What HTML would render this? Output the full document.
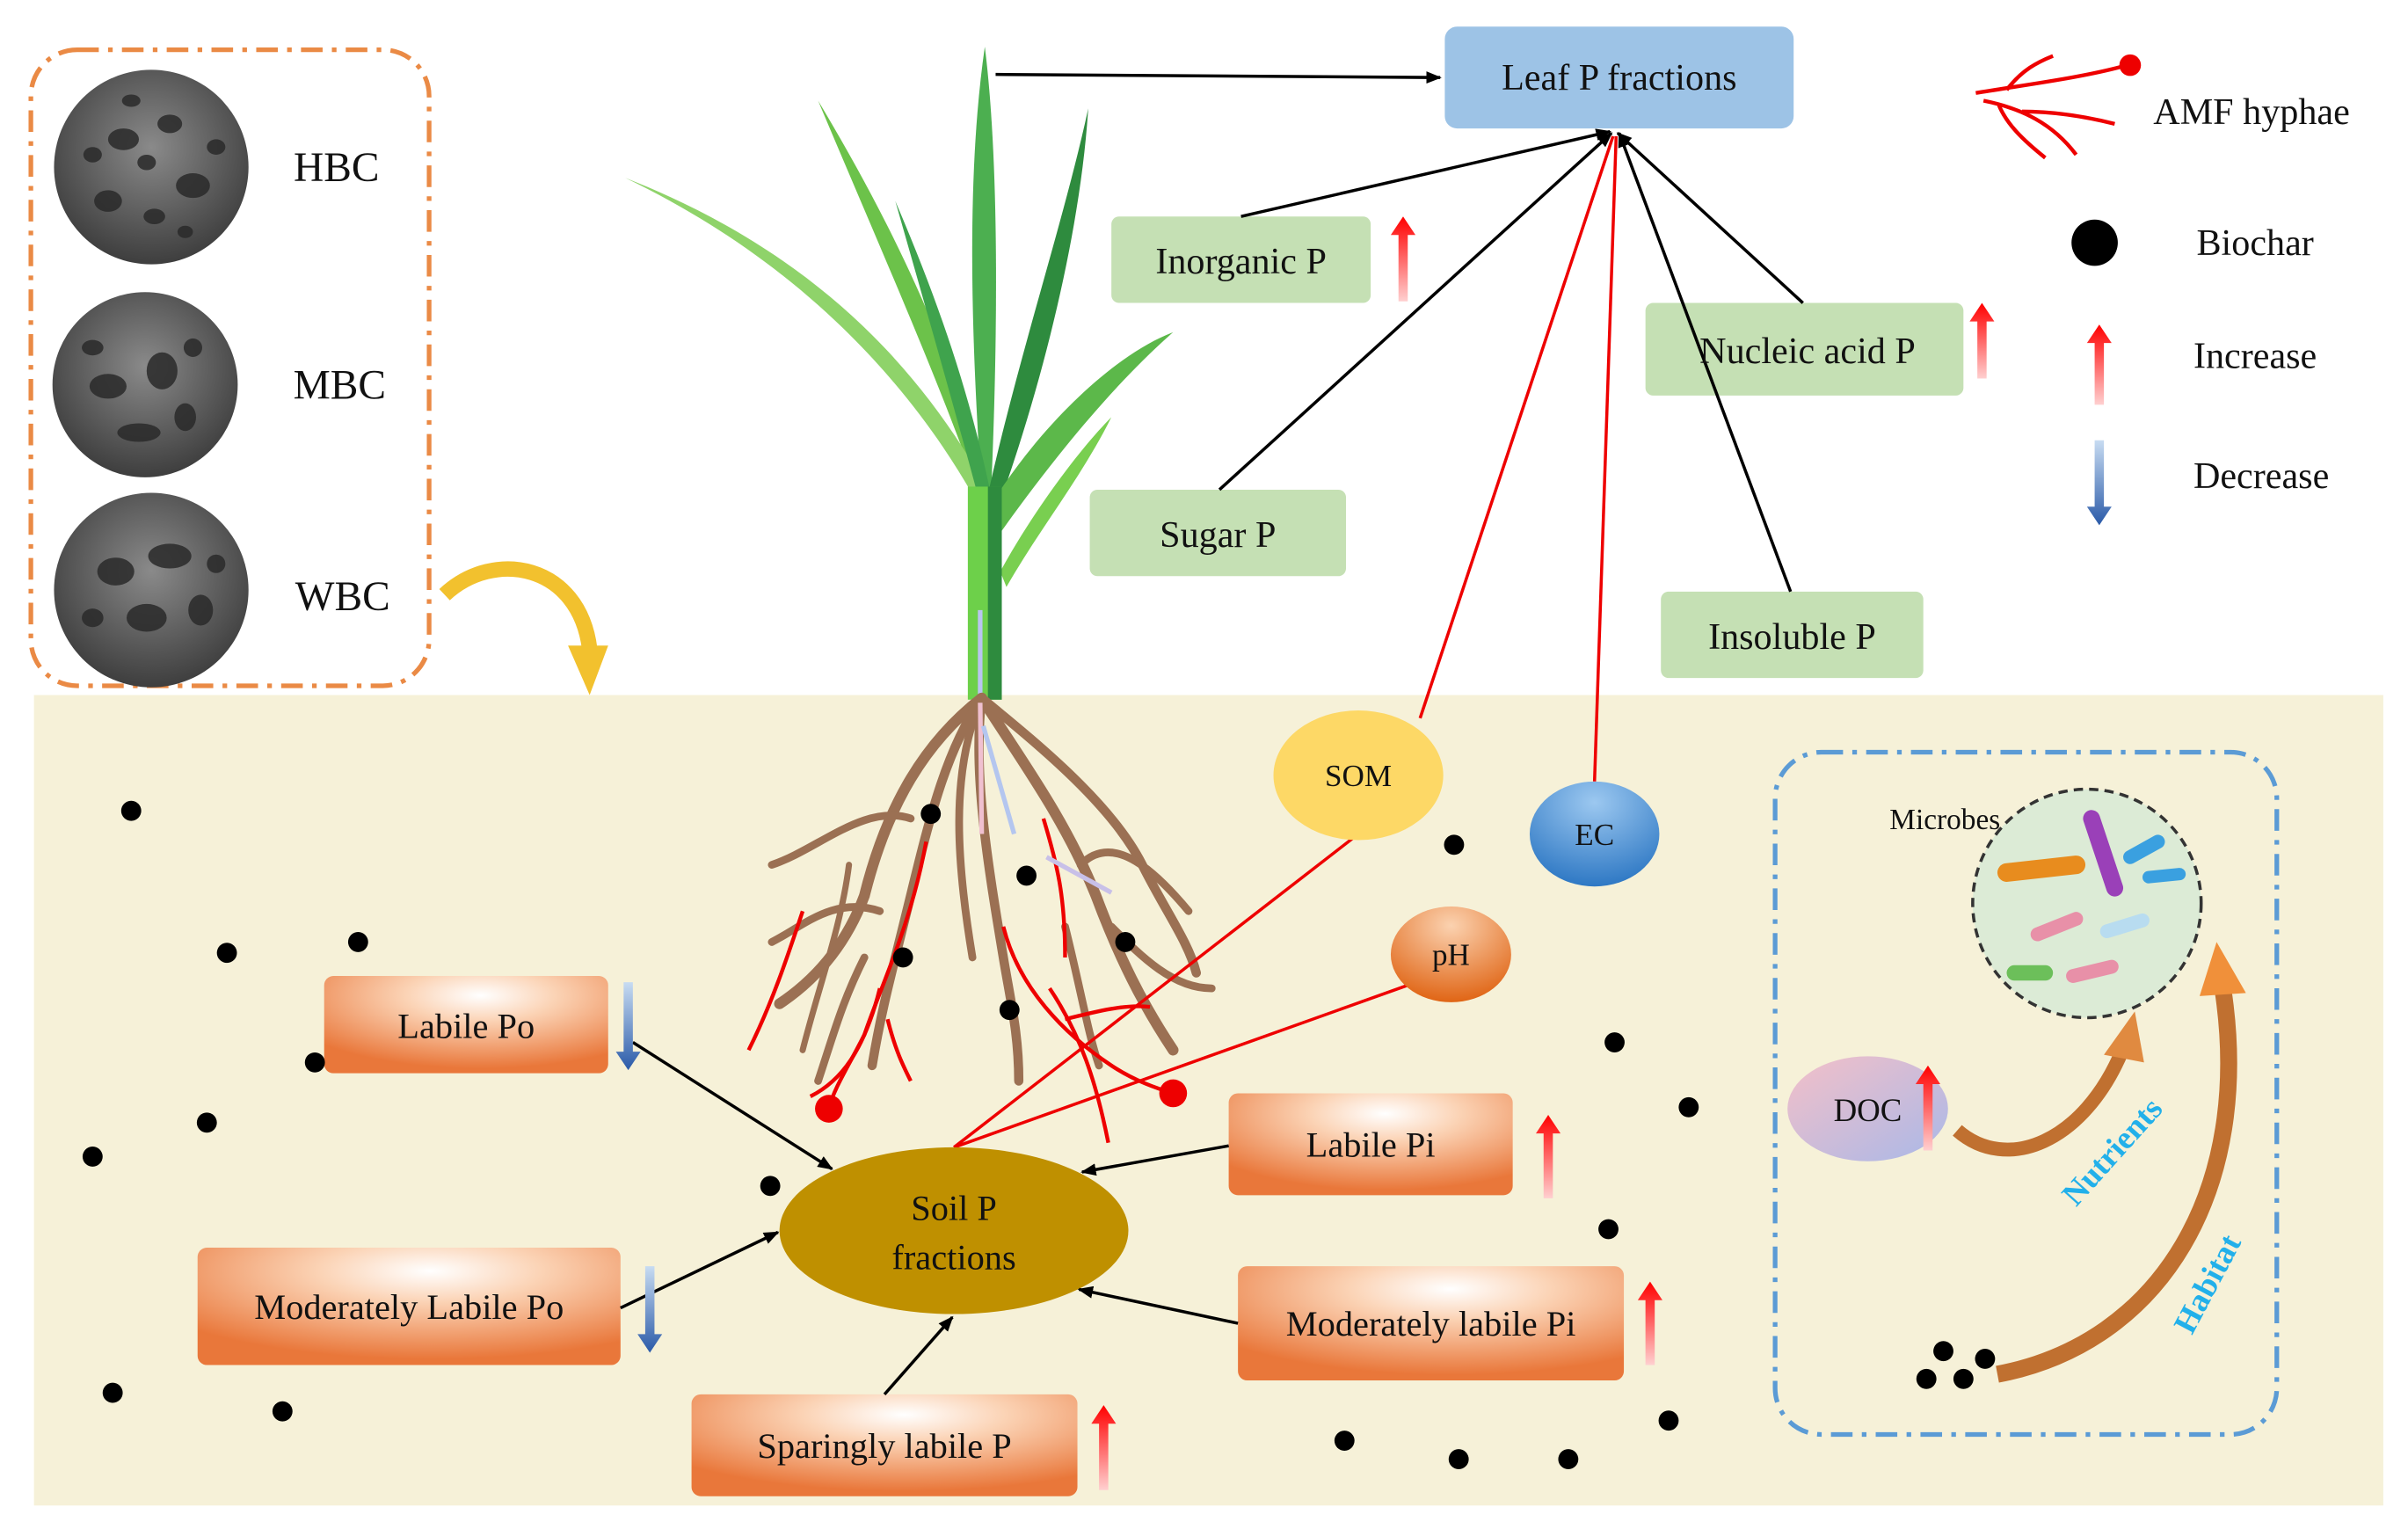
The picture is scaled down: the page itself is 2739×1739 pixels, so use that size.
<!DOCTYPE html>
<html><head><meta charset="utf-8"><style>
html,body{margin:0;padding:0;background:#fff;}
svg{display:block;}
text{font-family:"Liberation Serif",serif;fill:#111;}
</style></head><body>
<svg width="2739" height="1739" viewBox="0 0 1560 990" xmlns="http://www.w3.org/2000/svg">
<defs>
<radialGradient id="og" cx="0.55" cy="0.2" r="0.75">
<stop offset="0" stop-color="#ffffff"/><stop offset="0.35" stop-color="#fbd3b5"/><stop offset="1" stop-color="#e9773a"/></radialGradient>
<radialGradient id="ec" cx="0.5" cy="0.2" r="0.8"><stop offset="0" stop-color="#9cc8f0"/><stop offset="1" stop-color="#2e78c4"/></radialGradient>
<radialGradient id="ph" cx="0.5" cy="0.2" r="0.8"><stop offset="0" stop-color="#fbd2b0"/><stop offset="1" stop-color="#e06515"/></radialGradient>
<linearGradient id="doc" x1="0" y1="0" x2="1" y2="1"><stop offset="0" stop-color="#f4c0c8"/><stop offset="1" stop-color="#a9b8e8"/></linearGradient>
<radialGradient id="sem" cx="0.5" cy="0.4" r="0.6"><stop offset="0" stop-color="#8a8a8a"/><stop offset="1" stop-color="#3e3e3e"/></radialGradient>
<linearGradient id="up" x1="0" y1="0" x2="0" y2="1"><stop offset="0" stop-color="#ff0000"/><stop offset="1" stop-color="#ffd0d0"/></linearGradient>
<linearGradient id="dn" x1="0" y1="0" x2="0" y2="1"><stop offset="0" stop-color="#c8dcf2"/><stop offset="1" stop-color="#2a5aa8"/></linearGradient>
<marker id="ab" markerWidth="10" markerHeight="10" refX="9" refY="5" orient="auto" markerUnits="userSpaceOnUse"><path d="M0,1 L10,5 L0,9 z" fill="#000"/></marker>
</defs>

<rect x="22" y="450" width="1522" height="525" fill="#f6f1d8"/>

<rect x="20" y="32" width="258" height="412" rx="30" fill="none" stroke="#ea8a45" stroke-width="3" stroke-dasharray="14,6,3,6"/>
<circle cx="98" cy="108" r="63" fill="url(#sem)"/>
<circle cx="94" cy="249" r="60" fill="url(#sem)"/>
<circle cx="98" cy="382" r="63" fill="url(#sem)"/>
<g fill="#2a2a2a" opacity="0.85">
<ellipse cx="80" cy="90" rx="10" ry="7"/><ellipse cx="110" cy="80" rx="8" ry="6"/><ellipse cx="125" cy="120" rx="11" ry="8"/><ellipse cx="70" cy="130" rx="9" ry="7"/><ellipse cx="100" cy="140" rx="7" ry="5"/>
<ellipse cx="60" cy="100" rx="6" ry="5"/><ellipse cx="95" cy="105" rx="6" ry="5"/><ellipse cx="140" cy="95" rx="6" ry="5"/><ellipse cx="85" cy="65" rx="6" ry="4"/><ellipse cx="120" cy="150" rx="5" ry="4"/>
<ellipse cx="70" cy="250" rx="12" ry="8"/><ellipse cx="105" cy="240" rx="10" ry="12"/><ellipse cx="90" cy="280" rx="14" ry="6"/><ellipse cx="120" cy="270" rx="7" ry="9"/>
<ellipse cx="60" cy="225" rx="7" ry="5"/><ellipse cx="125" cy="225" rx="6" ry="6"/>
<ellipse cx="75" cy="370" rx="12" ry="9"/><ellipse cx="110" cy="360" rx="14" ry="8"/><ellipse cx="95" cy="400" rx="13" ry="9"/><ellipse cx="130" cy="395" rx="8" ry="10"/>
<ellipse cx="60" cy="400" rx="7" ry="6"/><ellipse cx="140" cy="365" rx="6" ry="6"/>
</g>
<text x="218" y="117" font-size="27" text-anchor="middle">HBC</text>
<text x="220" y="258" font-size="27" text-anchor="middle">MBC</text>
<text x="222" y="395" font-size="27" text-anchor="middle">WBC</text>
<path d="M288,385 C320,355 375,365 382,420" fill="none" stroke="#f2c12e" stroke-width="10"/>
<path d="M368,418 L382,450 L394,418 z" fill="#f2c12e"/>

<g>
<path d="M636,320 C630,230 625,120 638,30 C648,110 646,230 642,320 z" fill="#4caf50"/>
<path d="M634,320 C610,250 570,160 530,65 C575,140 620,230 640,320 z" fill="#6cc24a"/>
<path d="M630,320 C590,250 520,170 405,115 C520,160 590,230 636,310 z" fill="#8fd36a"/>
<path d="M640,320 C660,230 690,140 705,70 C700,150 675,250 646,330 z" fill="#2e8b3e"/>
<path d="M640,330 C670,280 720,230 760,215 C720,250 680,300 648,345 z" fill="#5cb84a"/>
<path d="M636,330 C620,270 600,200 580,130 C610,200 630,260 644,330 z" fill="#3fa34d"/>
<path d="M648,370 C670,330 700,290 720,270 C700,310 675,340 652,380 z" fill="#79cf50"/>
<rect x="627" y="315" width="22" height="138" fill="#6dd04a"/>
<rect x="640" y="315" width="9" height="138" fill="#2e8b3e"/>
<line x1="635" y1="450" x2="635" y2="395" stroke="#b9c4f0" stroke-width="3"/>
</g>
<line x1="645" y1="48" x2="933" y2="50" stroke="#000" stroke-width="2" marker-end="url(#ab)"/>

<g fill="none" stroke="#9b7053" stroke-linecap="round">
<path d="M636,452 C600,480 575,520 560,580 C545,620 520,640 505,650" stroke-width="7"/>
<path d="M636,452 C610,490 600,540 585,600 C575,640 570,660 565,690" stroke-width="6"/>
<path d="M636,452 C630,500 640,560 650,620 C655,650 660,670 660,700" stroke-width="6"/>
<path d="M636,452 C660,490 690,530 710,580 C725,620 740,650 760,680" stroke-width="7"/>
<path d="M636,452 C670,480 720,520 740,560 C755,590 770,610 775,630" stroke-width="6"/>
<path d="M636,452 C615,500 620,560 630,620" stroke-width="5"/>
<path d="M590,530 C560,520 530,550 500,560" stroke-width="5"/>
<path d="M570,590 C540,580 520,600 500,610" stroke-width="5"/>
<path d="M560,620 C545,650 540,670 530,700" stroke-width="5"/>
<path d="M700,560 C720,540 745,560 770,590" stroke-width="5"/>
<path d="M720,600 C740,620 760,640 785,640" stroke-width="5"/>
<path d="M690,600 C700,640 705,670 712,690" stroke-width="5"/>
<path d="M550,560 C545,600 530,640 520,680" stroke-width="4"/>
</g>
<g fill="none" stroke="#ee0000" stroke-width="2.5">
<path d="M520,590 C510,620 500,650 485,680"/>
<path d="M600,545 C590,600 570,640 560,670 C550,690 540,705 537,718"/>
<path d="M570,640 C560,680 545,700 525,710"/>
<path d="M575,660 C580,680 585,690 590,700"/>
<path d="M650,600 C660,640 690,670 720,690 C735,700 750,705 760,708"/>
<path d="M680,640 C700,670 710,700 718,740"/>
<path d="M676,530 C685,560 690,580 690,620"/>
<path d="M690,660 C710,655 730,650 745,652"/>
</g>
<circle cx="537" cy="718" r="9" fill="#ee0000"/>
<circle cx="760" cy="708" r="9" fill="#ee0000"/>
<path d="M635,455 L636,540" stroke="#f0c0d0" stroke-width="3"/>
<line x1="657" y1="540" x2="637" y2="470" stroke="#b4c6ef" stroke-width="3"/>
<line x1="720" y1="578" x2="678" y2="555" stroke="#c8c0e8" stroke-width="3"/>

<rect x="936" y="17" width="226" height="66" rx="8" fill="#9dc3e6"/>
<text x="1049" y="58" font-size="24" text-anchor="middle">Leaf P fractions</text>
<g fill="#c5e0b4">
<rect x="720" y="140" width="168" height="56" rx="5"/>
<rect x="706" y="317" width="166" height="56" rx="5"/>
<rect x="1066" y="196" width="206" height="60" rx="5"/>
<rect x="1076" y="383" width="170" height="56" rx="5"/>
</g>
<g stroke="#000" stroke-width="2" marker-end="url(#ab)">
<line x1="804" y1="140" x2="1043" y2="85"/>
<line x1="790" y1="317" x2="1044" y2="86"/>
<line x1="1168" y1="196" x2="1048" y2="86"/>
<line x1="1160" y1="383" x2="1049" y2="86"/>
</g>
<text x="804" y="177" font-size="24" text-anchor="middle">Inorganic P</text>
<text x="789" y="354" font-size="24" text-anchor="middle">Sugar P</text>
<text x="1171" y="235" font-size="24" text-anchor="middle">Nucleic acid P</text>
<text x="1161" y="420" font-size="24" text-anchor="middle">Insoluble P</text>

<g stroke="#ee0000" stroke-width="2" fill="none">
<line x1="920" y1="465" x2="1045" y2="88"/>
<line x1="1033" y1="506" x2="1047" y2="88"/>
<line x1="618" y1="743" x2="880" y2="540"/>
<line x1="618" y1="743" x2="912" y2="638"/>
</g>

<g stroke="#ee0000" stroke-width="2.5" fill="none">
<path d="M1280,60 C1310,55 1350,50 1378,42"/>
<path d="M1285,65 C1310,70 1330,80 1345,100"/>
<path d="M1300,58 C1310,45 1320,40 1330,36"/>
<path d="M1310,72 C1330,72 1350,75 1370,80"/>
<path d="M1295,68 C1300,80 1310,90 1325,102"/>
</g>
<circle cx="1380" cy="42" r="7" fill="#ee0000"/>
<text x="1395" y="80" font-size="24">AMF hyphae</text>
<circle cx="1357" cy="157" r="15" fill="#000"/>
<text x="1423" y="165" font-size="24">Biochar</text>
<text x="1421" y="238" font-size="24">Increase</text>
<text x="1421" y="316" font-size="24">Decrease</text>

<ellipse cx="880" cy="502" rx="55" ry="42" fill="#fdd866"/>
<text x="880" y="509" font-size="20" text-anchor="middle">SOM</text>
<ellipse cx="1033" cy="540" rx="42" ry="34" fill="url(#ec)"/>
<text x="1033" y="547" font-size="20" text-anchor="middle">EC</text>
<ellipse cx="940" cy="618" rx="39" ry="31" fill="url(#ph)"/>
<text x="940" y="625" font-size="20" text-anchor="middle">pH</text>

<ellipse cx="618" cy="797" rx="113" ry="54" fill="#bf9000"/>
<text x="618" y="790" font-size="23" text-anchor="middle">Soil P</text>
<text x="618" y="822" font-size="23" text-anchor="middle">fractions</text>

<g fill="url(#og)">
<rect x="210" y="632" width="184" height="63" rx="6"/>
<rect x="128" y="808" width="274" height="76" rx="6"/>
<rect x="448" y="903" width="250" height="66" rx="6"/>
<rect x="796" y="708" width="184" height="66" rx="6"/>
<rect x="802" y="820" width="250" height="74" rx="6"/>
</g>
<text x="302" y="672" font-size="23" text-anchor="middle">Labile Po</text>
<text x="265" y="854" font-size="23" text-anchor="middle">Moderately Labile Po</text>
<text x="573" y="944" font-size="23" text-anchor="middle">Sparingly labile P</text>
<text x="888" y="749" font-size="23" text-anchor="middle">Labile Pi</text>
<text x="927" y="865" font-size="23" text-anchor="middle">Moderately labile Pi</text>
<g stroke="#000" stroke-width="2" marker-end="url(#ab)">
<line x1="410" y1="675" x2="539" y2="757"/>
<line x1="402" y1="847" x2="504" y2="798"/>
<line x1="573" y1="903" x2="617" y2="853"/>
<line x1="796" y1="742" x2="701" y2="759"/>
<line x1="802" y1="857" x2="699" y2="835"/>
</g>

<g fill="#000">
<circle cx="85" cy="525" r="6.5"/><circle cx="147" cy="617" r="6.5"/><circle cx="232" cy="610" r="6.5"/><circle cx="204" cy="688" r="6.5"/><circle cx="134" cy="727" r="6.5"/><circle cx="60" cy="749" r="6.5"/><circle cx="73" cy="902" r="6.5"/><circle cx="183" cy="914" r="6.5"/><circle cx="603" cy="527" r="6.5"/><circle cx="665" cy="567" r="6.5"/><circle cx="585" cy="620" r="6.5"/><circle cx="729" cy="610" r="6.5"/><circle cx="654" cy="654" r="6.5"/><circle cx="499" cy="768" r="6.5"/><circle cx="942" cy="547" r="6.5"/><circle cx="1046" cy="675" r="6.5"/><circle cx="1094" cy="717" r="6.5"/><circle cx="1042" cy="796" r="6.5"/><circle cx="871" cy="933" r="6.5"/><circle cx="945" cy="945" r="6.5"/><circle cx="1016" cy="945" r="6.5"/><circle cx="1081" cy="920" r="6.5"/>
<circle cx="1259" cy="875" r="6.5"/><circle cx="1286" cy="880" r="6.5"/><circle cx="1248" cy="893" r="6.5"/><circle cx="1272" cy="893" r="6.5"/>
</g>

<rect x="1150" y="487" width="325" height="442" rx="30" fill="none" stroke="#5b9bd5" stroke-width="3" stroke-dasharray="14,6,3,6"/>
<circle cx="1352" cy="585" r="74" fill="#dcebd6" stroke="#333" stroke-width="2" stroke-dasharray="6,4"/>
<g stroke-linecap="round">
<line x1="1300" y1="565" x2="1345" y2="560" stroke="#e88c1e" stroke-width="12"/>
<line x1="1355" y1="530" x2="1370" y2="575" stroke="#9a40b8" stroke-width="11"/>
<line x1="1380" y1="555" x2="1398" y2="545" stroke="#3aa0e0" stroke-width="9"/>
<line x1="1392" y1="568" x2="1412" y2="566" stroke="#3aa0e0" stroke-width="8"/>
<line x1="1320" y1="605" x2="1345" y2="595" stroke="#e890a8" stroke-width="9"/>
<line x1="1365" y1="603" x2="1388" y2="596" stroke="#b8dcf0" stroke-width="9"/>
<line x1="1305" y1="630" x2="1325" y2="630" stroke="#6cbf5a" stroke-width="10"/>
<line x1="1343" y1="632" x2="1368" y2="626" stroke="#e890a8" stroke-width="9"/>
</g>
<text x="1260" y="537" font-size="19" text-anchor="middle">Microbes</text>
<ellipse cx="1210" cy="718" rx="52" ry="34" fill="url(#doc)"/>
<text x="1210" y="726" font-size="21" text-anchor="middle">DOC</text>
<path d="M1268,732 C1300,760 1350,740 1375,680" fill="none" stroke="#c07030" stroke-width="9"/>
<path d="M1363,683 L1383,655 L1389,688 z" fill="#e08a40"/>
<path d="M1294,890 C1400,870 1460,770 1440,640" fill="none" stroke="#c07030" stroke-width="11"/>
<path d="M1425,645 L1436,610 L1455,643 z" fill="#f0903a"/>
<text x="0" y="0" font-size="21" font-weight="bold" style="fill:#22b0ea" transform="translate(1345,782) rotate(-48)">Nutrients</text>
<text x="0" y="0" font-size="21" font-weight="bold" style="fill:#22b0ea" transform="translate(1420,865) rotate(-62)">Habitat</text>

<g>
<path d="M906,195 L906,152 L901,152 L909,140 L917,152 L912,152 L912,195 z" fill="url(#up)"/>
<path d="M1281,245 L1281,208 L1276,208 L1284,196 L1292,208 L1287,208 L1287,245 z" fill="url(#up)"/>
<path d="M1357,262 L1357,222 L1352,222 L1360,210 L1368,222 L1363,222 L1363,262 z" fill="url(#up)"/>
<path d="M1357,285 L1363,285 L1363,328 L1368,328 L1360,340 L1352,328 L1357,328 z" fill="url(#dn)"/>
<path d="M404,636 L410,636 L410,681 L415,681 L407,693 L399,681 L404,681 z" fill="url(#dn)"/>
<path d="M418,820 L424,820 L424,864 L429,864 L421,876 L413,864 L418,864 z" fill="url(#dn)"/>
<path d="M712,965 L712,922 L707,922 L715,910 L723,922 L718,922 L718,965 z" fill="url(#up)"/>
<path d="M1000,776 L1000,734 L995,734 L1003,722 L1011,734 L1006,734 L1006,776 z" fill="url(#up)"/>
<path d="M1066,884 L1066,842 L1061,842 L1069,830 L1077,842 L1072,842 L1072,884 z" fill="url(#up)"/>
<path d="M1246,745 L1246,702 L1241,702 L1249,690 L1257,702 L1252,702 L1252,745 z" fill="url(#up)"/>
</g>
</svg>
</body></html>
